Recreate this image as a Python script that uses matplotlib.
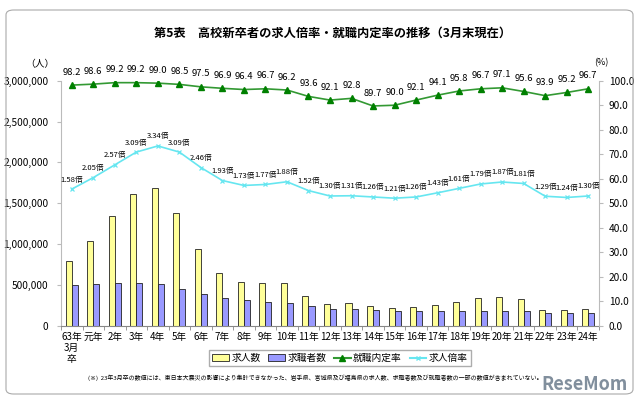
import matplotlib
matplotlib.use("Agg")
import matplotlib.pyplot as plt
from matplotlib.patches import FancyBboxPatch, Patch
from matplotlib.lines import Line2D
import numpy as np

plt.rcParams['font.family'] = ['Noto Sans CJK JP', 'DejaVu Sans']

# ── data ────────────────────────────────────────────────────────
years = ['63年\n3月\n卒', '元年', '2年', '3年', '4年', '5年', '6年', '7年', '8年',
         '9年', '10年', '11年', '12年', '13年', '14年', '15年', '16年', '17年',
         '18年', '19年', '20年', '21年', '22年', '23年', '24年']
job_openings = [793000, 1045000, 1350000, 1615000, 1688000, 1383000, 944000,
                651000, 541000, 524000, 521000, 362000, 274000, 278000, 245000,
                220000, 229000, 262000, 299000, 339000, 351000, 331000, 200000,
                200000, 213000]
job_seekers = [505000, 512000, 529000, 526000, 508000, 451000, 387000, 341000,
               317000, 297000, 281000, 240000, 213000, 213000, 196000, 183000,
               180000, 183000, 188000, 188000, 188000, 180000, 155000, 163000,
               163000]
offer_rate = [98.2, 98.6, 99.2, 99.2, 99.0, 98.5, 97.5, 96.9, 96.4, 96.7, 96.2,
              93.6, 92.1, 92.8, 89.7, 90.0, 92.1, 94.1, 95.8, 96.7, 97.1, 95.6,
              93.9, 95.2, 96.7]
opening_ratio = [1.58, 2.05, 2.57, 3.09, 3.34, 3.09, 2.46, 1.93, 1.73, 1.77,
                 1.88, 1.52, 1.30, 1.31, 1.26, 1.21, 1.26, 1.43, 1.61, 1.79,
                 1.87, 1.81, 1.29, 1.24, 1.30]
left_ticks = [0, 500000, 1000000, 1500000, 2000000, 2500000, 3000000]
right_ticks = [0, 10, 20, 30, 40, 50, 60, 70, 80, 90, 100]

# ── colours ─────────────────────────────────────────────────────
COL_OPEN = '#FFFF99'
COL_SEEK = '#9999FF'
COL_RATE = '#339933'
COL_RATE_MK = '#008000'
COL_RATIO = '#66E6F0'
COL_EDGE = '#222222'
COL_AXIS = '#BBBBBB'

fig = plt.figure(figsize=(6.4, 4.01), dpi=100)
ax = fig.add_axes([61 / 640, 1 - 326 / 401, 538 / 640, 245.3 / 401])

x = np.arange(len(years))
w = 0.28
ax.bar(x - w / 2, job_openings, w, color=COL_OPEN, edgecolor=COL_EDGE, lw=0.6, zorder=2)
ax.bar(x + w / 2, job_seekers, w, color=COL_SEEK, edgecolor=COL_EDGE, lw=0.6, zorder=2)
ax.set_xlim(-0.5, len(years) - 0.5)
ax.set_ylim(0, 3000000)
ax.set_yticks(left_ticks)
ax.set_yticklabels([f'{v:,}' for v in left_ticks], fontsize=7.3)
ax.set_xticks(x)
ax.set_xticklabels(years, fontsize=7, linespacing=1.15, va='top')
ax.set_xticks(np.arange(len(years) + 1) - 0.5, minor=True)
ax.tick_params(axis='x', which='major', length=0, pad=4)
ax.tick_params(axis='x', which='minor', length=3, color='#888888')
ax.tick_params(axis='y', length=3, color=COL_AXIS, pad=6)
for s in ['top', 'right']:
    ax.spines[s].set_visible(False)
ax.spines['left'].set_color(COL_AXIS)
ax.spines['bottom'].set_color('#888888')

# right axis: 就職内定率
ax2 = ax.twinx()
ax2.set_ylim(0, 100)
ax2.set_yticks(right_ticks)
ax2.set_yticklabels([f'{v:.1f}' for v in right_ticks], fontsize=7.3)
ax2.tick_params(axis='y', length=3, color=COL_AXIS, pad=4)
for s in ['top', 'left', 'bottom']:
    ax2.spines[s].set_visible(False)
ax2.spines['right'].set_color(COL_AXIS)
ax2.plot(x, offer_rate, color=COL_RATE, lw=1.2, marker='^', ms=4.5,
         mfc=COL_RATE_MK, mec=COL_RATE_MK, zorder=4)
for xi, v in zip(x, offer_rate):
    ax2.annotate(f'{v:.1f}', (xi, v), xytext=(0, 6), textcoords='offset points',
                 ha='center', va='bottom', fontsize=6.8, annotation_clip=False)

# hidden axis: 求人倍率
ax3 = ax.twinx()
ax3.set_ylim(-4, 6)
ax3.axis('off')
ax3.plot(x, opening_ratio, color=COL_RATIO, lw=1.2, marker='x', ms=3.5,
         mew=0.9, zorder=4)
for xi, v in zip(x, opening_ratio):
    ax3.annotate(f'{v:.2f}倍', (xi, v), xytext=(0, 4), textcoords='offset points',
                 ha='center', va='bottom', fontsize=5.5)

# texts
fig.text(333 / 640, 1 - 33 / 401,
         '第5表　高校新卒者の求人倍率・就職内定率の推移（3月末現在）',
         ha='center', va='center', fontsize=8.8, fontweight='bold')
fig.text(40 / 640, 1 - 64 / 401, '（人）', ha='center', va='center', fontsize=7)
fig.text(601 / 640, 1 - 63 / 401, '(%)', ha='center', va='center', fontsize=6.5)

handles = [Patch(facecolor=COL_OPEN, edgecolor=COL_EDGE, lw=0.6),
           Patch(facecolor=COL_SEEK, edgecolor=COL_EDGE, lw=0.6),
           Line2D([], [], color=COL_RATE, marker='^', ms=4, mfc=COL_RATE_MK, mec=COL_RATE_MK),
           Line2D([], [], color=COL_RATIO, marker='x', ms=3.5)]
fig.legend(handles, ['求人数', '求職者数', '就職内定率', '求人倍率'],
           loc='center', bbox_to_anchor=(340 / 640, 1 - 358 / 401), ncol=4,
           fontsize=7, frameon=True, fancybox=False, edgecolor='#999999',
           handlelength=1.7, handleheight=0.6, handletextpad=0.25,
           columnspacing=0.8, borderpad=0.35)

fig.text(88 / 640, 1 - 378 / 401,
         '(※)  23年3月卒の数値には、東日本大震災の影響により集計できなかった、岩手県、宮城県及び福島県の求人数、'
         '求職者数及び就職者数の一部の数値が含まれていない。',
         ha='left', va='center', fontsize=4.3)

# outer frame
fig.patches.append(FancyBboxPatch((6 / 640, 1 - 394 / 401), 627 / 640, 384 / 401,
                                  boxstyle='round,pad=0,rounding_size=0.012',
                                  transform=fig.transFigure, fill=False,
                                  edgecolor='#AAAAAA', lw=0.8))

fig.text(628 / 640, 1 - 385 / 401, 'ReseMom', ha='right', va='center',
         fontsize=13, fontweight='bold', color='#6B7B8C', alpha=0.85)

fig.savefig('out.png', dpi=100, facecolor='white')
